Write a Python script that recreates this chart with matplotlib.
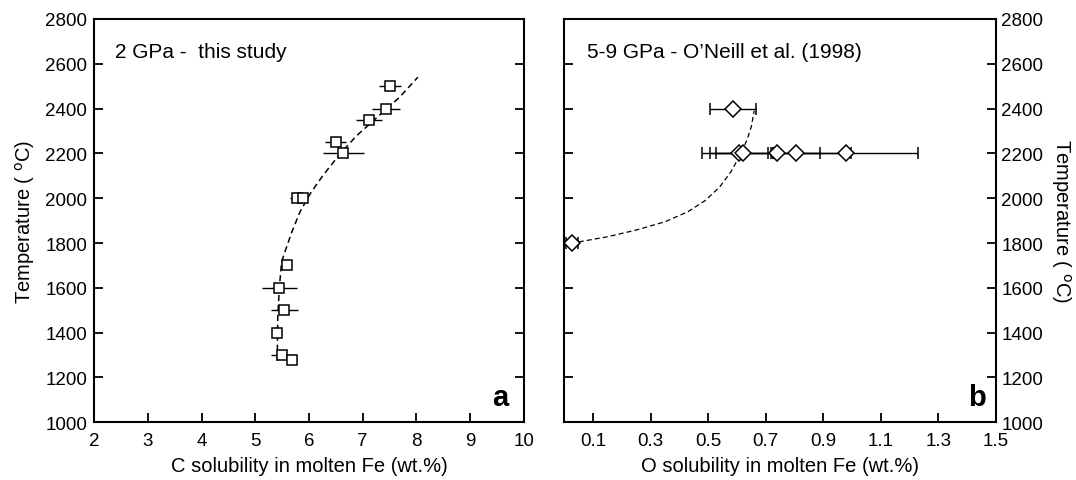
import numpy as np
import matplotlib
matplotlib.use("Agg")
import matplotlib.pyplot as plt

plt.rcParams['font.family'] = ['Liberation Sans', 'DejaVu Sans']

# panel a : C solubility, 2 GPa (this study)
c_wt = [7.51, 7.43, 7.12, 6.50, 6.64, 5.77, 5.89, 5.59, 5.45, 5.54, 5.40, 5.49, 5.68]
c_temp = [2500, 2400, 2350, 2250, 2200, 2000, 2000, 1700, 1600, 1500, 1400, 1300, 1280]
c_err = [0.2, 0.26, 0.24, 0.2, 0.38, 0.12, 0.1, 0.0, 0.33, 0.25, 0.0, 0.2, 0.0]

# dashed trend
c_fit_wt = [5.41, 5.42, 5.45, 5.49, 5.55, 5.68, 5.83, 6.02, 6.26, 6.58, 6.89, 7.32, 7.69, 8.03]
c_fit_temp = [1275, 1476, 1603, 1714, 1759, 1848, 1937, 2019, 2101, 2198, 2279, 2372, 2451, 2540]

# panel b : O solubility, 5-9 GPa (O'Neill et al. 1998)
o_wt = [0.585, 0.607, 0.622, 0.738, 0.807, 0.978, 0.027]
o_temp = [2400, 2200, 2200, 2200, 2200, 2200, 1800]
o_err = [0.08, 0.10, 0.096, 0.26, 0.081, 0.252, 0.022]

o_fit_wt = [0.05, 0.15, 0.25, 0.35, 0.43, 0.49, 0.54, 0.58, 0.61, 0.635, 0.65, 0.66]
o_fit_temp = [1805, 1828, 1858, 1895, 1940, 1990, 2050, 2120, 2190, 2260, 2320, 2390]

fig = plt.figure(figsize=(10.76, 4.81), dpi=100)
axa = fig.add_axes([0.0876, 0.120, 0.399, 0.8385])
axb = fig.add_axes([0.5245, 0.120, 0.401, 0.8385])

for ax in (axa, axb):
    for s in ax.spines.values():
        s.set_linewidth(1.5)
    ax.tick_params(direction='in', length=6.5, width=1.3, labelsize=13.5,
                   top=False, left=True, right=True)
    ax.set_ylim(1000, 2800)
    ax.set_yticks(np.arange(1000, 2801, 200))

# panel a
axa.plot(c_fit_wt, c_fit_temp, 'k--', lw=1.1, dashes=(4, 2.5))
axa.errorbar(c_wt, c_temp, xerr=c_err, fmt='s', ms=6.8, mfc='white', mec='black',
             mew=1.1, ecolor='black', elinewidth=1.0, capsize=0)
axa.set_xlim(2, 10)
axa.set_xticks(range(2, 11))
axa.tick_params(axis='x', pad=7)
axa.tick_params(axis='y', pad=5, labelleft=True, labelright=False)
axa.set_xlabel('C solubility in molten Fe (wt.%)', fontsize=14.5, labelpad=5)
axa.set_ylabel('Temperature ( $^{\\rm o}$C)', fontsize=14.5, labelpad=6)
axa.text(0.048, 0.92, '2 GPa -  this study', transform=axa.transAxes,
         fontsize=15, va='center')
axa.text(0.965, 0.043, 'a', transform=axa.transAxes, fontsize=21,
         fontweight='bold', ha='right', va='baseline')

# panel b
axb.plot(o_fit_wt, o_fit_temp, 'k--', lw=0.9, dashes=(4, 2.5))
axb.errorbar(o_wt, o_temp, xerr=o_err, fmt='D', ms=8.5, mfc='white', mec='black',
             mew=1.1, ecolor='black', elinewidth=1.0, capsize=4, capthick=1.0)
axb.set_xlim(0, 1.5)
axb.set_xticks(np.arange(0.1, 1.51, 0.2))
axb.set_xticklabels(['0.1', '0.3', '0.5', '0.7', '0.9', '1.1', '1.3', '1.5'])
axb.tick_params(axis='x', pad=7)
axb.tick_params(axis='y', pad=4, labelleft=False, labelright=True)
axb.set_xlabel('O solubility in molten Fe (wt.%)', fontsize=14.5, labelpad=5)
axb.yaxis.set_label_position('right')
axb.set_ylabel('Temperature ( $^{\\rm o}$C)', fontsize=14.5, rotation=-90,
               labelpad=21)
axb.text(0.052, 0.92, '5-9 GPa - O\u2019Neill et al. (1998)', transform=axb.transAxes,
         fontsize=15, va='center')
axb.text(0.977, 0.043, 'b', transform=axb.transAxes, fontsize=21,
         fontweight='bold', ha='right', va='baseline')

fig.savefig('out.png', dpi=100)
